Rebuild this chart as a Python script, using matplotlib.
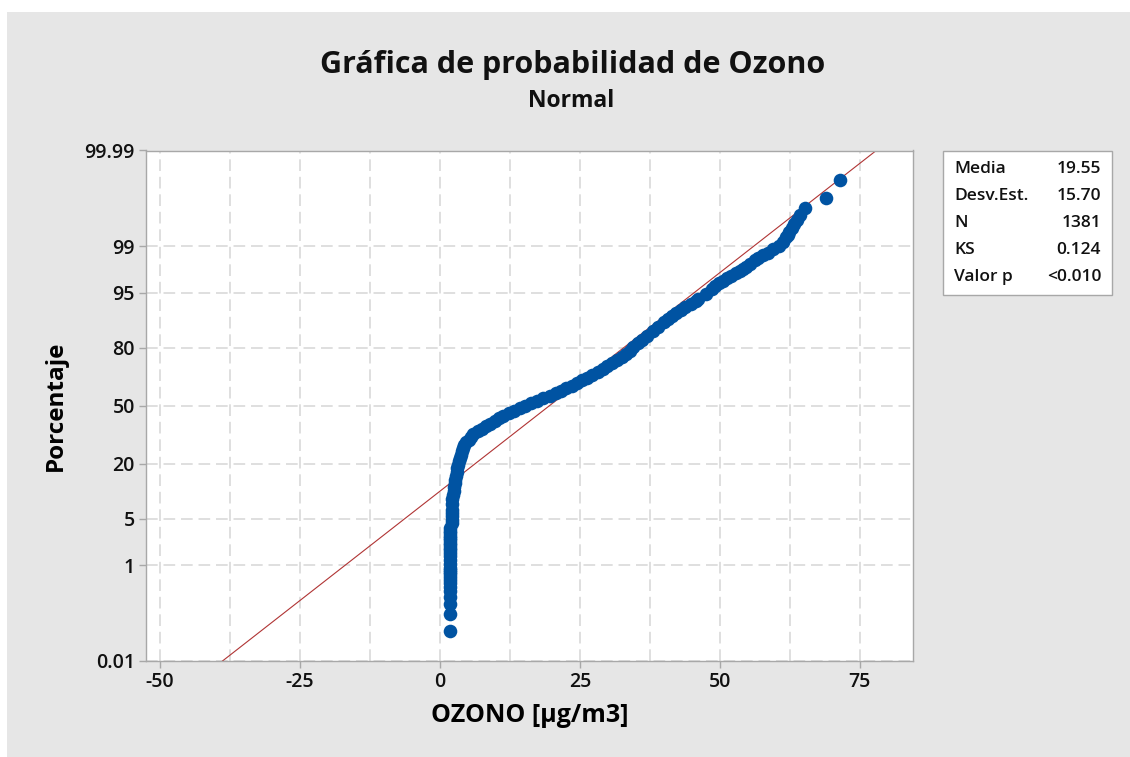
import numpy as np
import matplotlib
matplotlib.use("Agg")
import matplotlib.pyplot as plt
from matplotlib.patches import Rectangle
from matplotlib.ticker import MultipleLocator, NullLocator
from statistics import NormalDist

plt.rcParams['font.family'] = ['Open Sans', 'DejaVu Sans']
plt.rcParams['axes.unicode_minus'] = False

# summary of the fitted normal
n_obs = 1381
media = 19.55
desv_est = 15.70

# ordered sample: rank of the observation and its ozone value
rango = [1, 2, 3, 4, 5, 6, 7, 8, 9, 10,
         11, 12, 13, 15, 17, 20, 22, 25, 27, 30,
         32, 35, 37, 40, 44, 48, 52, 60, 67, 75,
         82, 90, 105,
         120, 135, 150, 165, 180, 195, 210, 230, 250, 270,
         290, 310, 330, 350, 370, 390, 410, 430, 450, 470,
         490, 510, 530, 550, 570, 590, 610, 630, 650, 670,
         690, 710, 730, 750, 770, 790, 810, 830, 850, 870,
         890, 910, 930, 950, 970, 990, 1010, 1030, 1050, 1070,
         1090, 1110, 1130, 1150, 1170, 1190, 1210, 1230, 1240, 1250,
         1260, 1270, 1278, 1285, 1293, 1300, 1310, 1320, 1325, 1330,
         1334, 1338, 1341, 1345, 1348, 1350, 1352, 1355, 1358, 1360,
         1362, 1364, 1366, 1368, 1370, 1372, 1373, 1374, 1375, 1376,
         1377, 1378, 1379, 1380, 1381]
ozono = [1.85, 1.85, 1.85, 1.85, 1.85, 1.85, 1.85, 1.85, 1.85, 1.85,
         1.85, 1.85, 1.85, 1.85, 1.85, 1.85, 1.85, 1.85, 1.85, 1.85,
         1.85, 1.85, 1.85, 1.85, 1.85, 1.85, 1.85, 2.15, 2.15, 2.15,
         2.15, 2.15, 2.15,
         2.2, 2.3, 2.45, 2.55, 2.65, 2.75, 2.85, 3.0, 3.1, 3.25,
         3.4, 3.5, 3.7, 3.9, 4.1, 4.35, 4.7, 5.15, 5.55, 5.95,
         6.75, 7.5, 8.25, 9.0, 9.8, 10.6, 11.35, 12.3, 13.3, 14.25,
         15.25, 16.3, 17.4, 18.5, 19.6, 20.65, 21.6, 22.6, 23.55, 24.5,
         25.4, 26.35, 27.25, 28.15, 29.05, 29.9, 30.8, 31.65, 32.45, 33.3,
         33.9, 34.5, 35.3, 36.15, 37.05, 38.0, 38.95, 40.05, 40.75, 41.4,
         42.2, 43.0, 43.8, 44.8, 45.7, 46.15, 47.5, 48.65, 49.2, 49.85,
         50.5, 51.3, 52.0, 52.9, 53.6, 54.1, 54.6, 55.4, 56.3, 56.9,
         57.7, 58.6, 59.5, 60.5, 61.3, 61.9, 62.1, 62.4, 62.8, 63.3,
         63.8, 64.3, 65.2, 68.9, 71.4]

pct_ticks = [0.01, 1, 5, 20, 50, 80, 95, 99, 99.99]
pct_labels = ["0.01", "1", "5", "20", "50", "80", "95", "99", "99.99"]
x_ticks = [-50, -25, 0, 25, 50, 75]

stat_names = ["Media", "Desv.Est.", "N", "KS", "Valor p"]
stat_values = ["19.55", "15.70", "1381", "0.124", "<0.010"]

# normal probability axis (percent <-> z)
nd = NormalDist()
_ppf = np.vectorize(nd.inv_cdf, otypes=[float])
_cdf = np.vectorize(nd.cdf, otypes=[float])


def prob_fwd(pct):
    p = np.clip(np.asarray(pct, dtype=float) / 100.0, 1e-12, 1 - 1e-12)
    return _ppf(p)


def prob_inv(z):
    return _cdf(np.asarray(z, dtype=float)) * 100.0


# median ranks for plotting positions
pct = (np.array(rango) - 0.3) / (n_obs + 0.4) * 100.0

fig = plt.figure(figsize=(11.30, 7.57), dpi=100)
fig.patches.append(Rectangle((7 / 1130, 0), 1, 1 - 12 / 757, transform=fig.transFigure,
                             facecolor="#e6e6e6", edgecolor="none", zorder=-10))

ax = fig.add_axes([146 / 1130, 1 - 661 / 757, 767 / 1130, 510.5 / 757])
ax.set_yscale("function", functions=(prob_fwd, prob_inv))

fit_pct = np.array([0.01, 99.99])
fit_x = media + desv_est * prob_fwd(fit_pct)
ax.plot(fit_x, fit_pct, color="#b03434", lw=0.8, zorder=2)

ax.plot(ozono, pct, "o", ms=9.8, color="#0053a2", mec="none", zorder=3)

ax.set_xlim(-52.5, 84.5)
ax.set_ylim(0.01, 99.99)
ax.set_xticks(x_ticks, labels=[str(v) for v in x_ticks], fontweight="semibold")
ax.xaxis.set_minor_locator(MultipleLocator(12.5))
ax.yaxis.set_minor_locator(NullLocator())
ax.set_yticks(pct_ticks, labels=pct_labels, fontweight="semibold")

grid_kw = dict(color="#d9d9d9", lw=1.2, ls=(0, (7, 3.5)))
ax.grid(True, which="major", axis="y", **grid_kw)
ax.grid(True, which="both", axis="x", **grid_kw)
ax.set_axisbelow(True)

for sp in ax.spines.values():
    sp.set_color("#a8a8a8")
    sp.set_linewidth(1.0)
ax.tick_params(which="major", direction="out", length=5, width=1, color="#a8a8a8",
               labelsize=14, labelcolor="#111111", pad=3)
ax.tick_params(which="minor", length=0)

ax.set_xlabel("OZONO [µg/m3]", fontsize=18, fontweight="bold", labelpad=8)
ax.set_ylabel("Porcentaje", fontsize=17.5, fontweight="bold", labelpad=12)

fig.text(0.507, 1 - 65 / 757, "Gráfica de probabilidad de Ozono", ha="center", va="center",
         fontsize=22, fontweight="bold", color="#111111")
fig.text(0.505, 1 - 101 / 757, "Normal", ha="center", va="center",
         fontsize=16.5, fontweight="bold", color="#111111")

# statistics box
bx0, bx1, by0, by1 = 943, 1112, 151, 295
fig.patches.append(Rectangle((bx0 / 1130, 1 - by1 / 757), (bx1 - bx0) / 1130, (by1 - by0) / 757,
                             transform=fig.transFigure, facecolor="white",
                             edgecolor="#a8a8a8", lw=1.0))
for i, (name, val) in enumerate(zip(stat_names, stat_values)):
    yy = 1 - (169 + 27 * i) / 757
    fig.text(954 / 1130, yy, name, ha="left", va="center", fontsize=12.5,
             fontweight="semibold", color="#111111")
    fig.text(1101 / 1130, yy, val, ha="right", va="center", fontsize=12.5,
             fontweight="semibold", color="#111111")

fig.savefig("out.png", dpi=100)
